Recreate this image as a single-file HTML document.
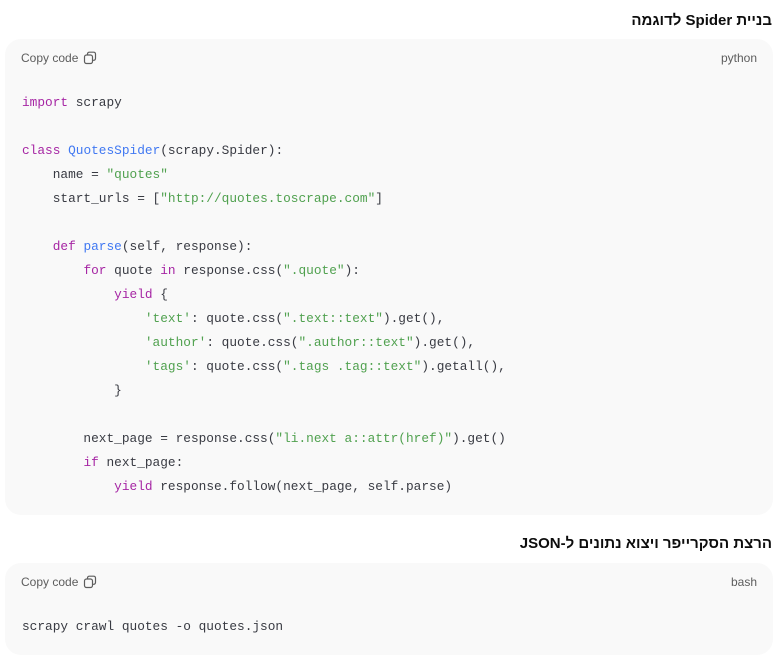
<!DOCTYPE html>
<html><head><meta charset="utf-8"><style>
body{margin:0;width:778px;height:661px;background:#fff;position:relative;overflow:hidden;font-family:"Liberation Sans",sans-serif;}
.h{position:absolute;right:6px;font-weight:bold;font-size:15px;color:#0d0d0d;direction:rtl;font-family:"Liberation Sans","Noto Sans CJK SC",sans-serif;}
.box{position:absolute;left:5px;width:768px;background:#f9f9f9;border-radius:16px;}
.cp{position:absolute;left:16px;top:11px;font-size:12px;color:#5d5d5d;display:flex;align-items:center;gap:5px;}
.lang{position:absolute;right:16px;top:11px;font-size:12px;color:#5d5d5d;}
pre{position:absolute;left:17px;margin:0;font-family:"Liberation Mono",monospace;font-size:12.8px;line-height:24px;color:#383a42;}
.k{color:#a626a4}.c{color:#4078f2}.s{color:#50a14f}
</style></head><body>
<div class="h" style="top:12px">בניית Spider לדוגמה</div>
<div class="box" style="top:39px;height:476px">
<div class="cp" style="top:12px">Copy code <svg width="14" height="14" viewBox="0 0 14 14"><rect x="1.5" y="4" width="8" height="8.5" rx="2" fill="none" stroke="#5d5d5d" stroke-width="1.2"/><path d="M4.5 4V3a1.8 1.8 0 0 1 1.8-1.8h4.4A1.8 1.8 0 0 1 12.5 3v4.5a1.8 1.8 0 0 1-1.8 1.8H9.5" fill="none" stroke="#5d5d5d" stroke-width="1.2"/></svg></div>
<div class="lang" style="top:12px">python</div>
<pre style="top:52px"><span class="k">import</span> scrapy

<span class="k">class</span> <span class="c">QuotesSpider</span>(scrapy.Spider):
    name = <span class="s">"quotes"</span>
    start_urls = [<span class="s">"http://quotes.toscrape.com"</span>]

    <span class="k">def</span> <span class="c">parse</span>(self, response):
        <span class="k">for</span> quote <span class="k">in</span> response.css(<span class="s">".quote"</span>):
            <span class="k">yield</span> {
                <span class="s">'text'</span>: quote.css(<span class="s">".text::text"</span>).get(),
                <span class="s">'author'</span>: quote.css(<span class="s">".author::text"</span>).get(),
                <span class="s">'tags'</span>: quote.css(<span class="s">".tags .tag::text"</span>).getall(),
            }

        next_page = response.css(<span class="s">"li.next a::attr(href)"</span>).get()
        <span class="k">if</span> next_page:
            <span class="k">yield</span> response.follow(next_page, self.parse)</pre>
</div>
<div class="h" style="top:535px">הרצת הסקרייפר ויצוא נתונים ל-JSON</div>
<div class="box" style="top:563px;height:92px">
<div class="cp" style="top:12px">Copy code <svg width="14" height="14" viewBox="0 0 14 14"><rect x="1.5" y="4" width="8" height="8.5" rx="2" fill="none" stroke="#5d5d5d" stroke-width="1.2"/><path d="M4.5 4V3a1.8 1.8 0 0 1 1.8-1.8h4.4A1.8 1.8 0 0 1 12.5 3v4.5a1.8 1.8 0 0 1-1.8 1.8H9.5" fill="none" stroke="#5d5d5d" stroke-width="1.2"/></svg></div>
<div class="lang" style="top:12px">bash</div>
<pre style="top:52px">scrapy crawl quotes -o quotes.json</pre>
</div>
</body></html>
